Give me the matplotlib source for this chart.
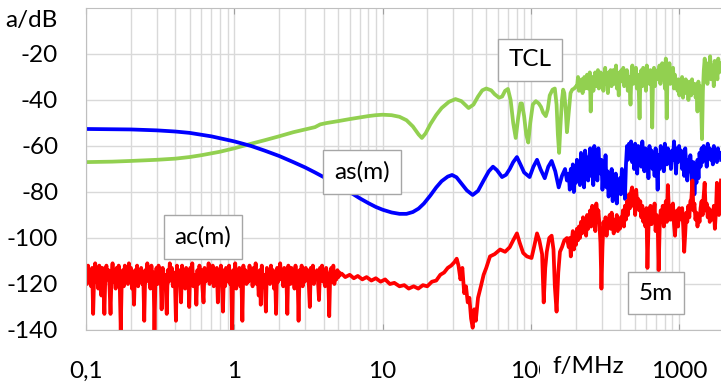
import matplotlib.pyplot as plt
import numpy as np

plt.rcParams['font.family'] = ['Lato', 'DejaVu Sans']
plt.rcParams['axes.unicode_minus'] = False

# ---- TCL (green) ----
tcl_f = [0.1, 0.15, 0.2, 0.3, 0.4, 0.5, 0.6, 0.8, 1.0, 1.3, 1.6, 2.0, 2.5, 3.0, 3.5, 3.8, 4.2,
         5.0, 6.0, 7.0, 8.0, 9.0, 10, 11.5, 13, 14.5, 16, 17.5, 18.4, 19.5, 21, 23, 25, 28, 31,
         34, 38, 41, 44, 47, 50, 54, 57, 61, 64, 67, 70, 73, 76, 79, 82, 85, 87, 90, 93, 96, 99,
         103, 108, 113, 117, 121, 126, 130, 134, 140, 145, 149, 152, 155, 158, 162, 165, 168,
         172, 175, 179, 185, 190, 196, 202]
tcl_db = [-67.0, -66.8, -66.5, -66.0, -65.5, -64.8, -64.0, -62.5, -61.0, -59.0, -57.5, -55.8,
          -54.0, -52.8, -51.8, -50.6, -50.0, -49.2, -48.3, -47.6, -47.0, -46.6, -46.4, -46.6,
          -47.3, -48.8, -51.5, -55.0, -56.5, -54.5, -50.5, -46.5, -43.5, -40.8, -39.6, -40.5,
          -43.5, -42.0, -38.5, -35.8, -35.0, -35.8, -37.5, -39.0, -38.5, -36.0, -35.2, -40.0,
          -50.0, -56.5, -48.0, -41.5, -41.5, -47.0, -55.0, -58.5, -50.0, -42.0, -40.5, -41.5,
          -43.0, -45.5, -47.0, -44.0, -38.0, -35.5, -35.0, -42.0, -55.0, -63.0, -52.0, -40.0,
          -35.5, -37.0, -45.0, -54.0, -47.0, -37.0, -35.5, -35.0, -34.0]
# noisy part, 205 .. 1914 MHz
tcl_noise_db = [-34, -30, -36, -32, -35, -31, -37, -33, -30, -35,
                -32, -29, -35, -31, -28, -45, -33, -30, -36, -31,
                -28, -34, -30, -27, -35, -31, -28, -33, -29, -36,
                -30, -26, -33, -29, -37, -28, -32, -27, -34, -30,
                -27, -33, -29, -25, -35, -30, -38, -28, -32, -27,
                -31, -26, -34, -29, -32, -27, -36, -30, -33, -42,
                -29, -25, -33, -28, -31, -26, -35, -29, -34, -48,
                -30, -27, -34, -26, -31, -28, -36, -25, -32, -29,
                -33, -27, -30, -52, -29, -26, -34, -28, -31, -27,
                -30, -25, -33, -28, -24, -31, -27, -35, -22, -48,
                -27, -31, -24, -33, -28, -30, -26, -35, -29, -32,
                -32, -36, -31, -38, -33, -35, -30, -39, -34, -37,
                -31, -36, -33, -40, -32, -35, -38, -31, -37, -34,
                -33, -39, -35, -45, -32, -37, -34, -41, -57, -36,
                -27, -22, -30, -25, -33, -24, -29, -21, -31, -27,
                -25, -34, -23, -29, -26, -31, -22, -28, -24, -27]

# ---- as(m) (blue) ----
as_f = [0.1, 0.15, 0.2, 0.3, 0.4, 0.5, 0.7, 1.0, 1.3, 1.6, 2.0, 2.5, 3.0, 3.5, 4.0, 5.0, 6.0,
        7.0, 8.0, 9.0, 10, 11.5, 13, 14.5, 16, 17.5, 19, 21, 23, 25, 27.5, 29.4, 31.5, 34, 37,
        40.5, 44, 48, 52, 55.5, 59, 63.9, 68, 72, 76, 80.5, 85, 90, 98, 104, 110, 116, 124, 131,
        138, 146, 154, 162, 170, 175]
as_db = [-52.6, -52.7, -52.8, -53.2, -53.7, -54.3, -55.8, -58.0, -60.0, -62.0, -64.3, -67.0,
         -69.3, -71.5, -73.5, -77.0, -80.0, -82.7, -84.8, -86.5, -87.7, -88.9, -89.5, -89.5,
         -88.7, -87.2, -85.0, -81.5, -78.0, -75.3, -73.3, -72.6, -73.6, -76.3, -79.3, -81.3,
         -79.5, -75.0, -71.0, -69.0, -70.5, -73.5, -72.5, -70.0, -67.0, -64.8, -68.0, -71.5,
         -73.5, -69.0, -66.0, -70.0, -74.0, -69.0, -66.5, -71.0, -78.0, -73.0, -70.0, -75.0]
# noisy part, 180 .. 1914 MHz
as_noise_db = [-72, -79, -70, -75, -68, -80, -71, -76, -66, -73,
               -69, -77, -63, -72, -67, -78, -62, -70, -65, -75,
               -66, -61, -73, -64, -77, -60, -70, -63, -75, -61,
               -68, -72, -66, -79, -70, -75, -64, -78, -71, -82,
               -73, -77, -70, -84, -74, -79, -72, -85, -76, -80,
               -74, -81, -70, -78, -72, -83, -68, -60, -66, -59,
               -64, -58, -67, -61, -70, -59, -65, -72, -60, -66,
               -62, -69, -58, -65, -71, -61, -67, -63, -74, -60,
               -68, -62, -70, -65, -73, -61, -67, -79, -64, -70,
               -60, -66, -62, -71, -59, -64, -68, -61, -67, -63,
               -70, -62, -66, -58, -64, -72, -61, -67, -60, -65,
               -62, -70, -64, -73, -61, -68, -75, -66, -71, -64,
               -70, -79, -67, -81, -72, -76, -66, -74, -63, -69,
               -61, -67, -60, -65, -62, -69, -59, -64, -61, -66,
               -63, -68, -60, -65, -62, -67, -61, -64, -63, -66]

# ---- ac(m) (red) ----
# noisy part, 0.1 .. 5.2 MHz
ac_low_db = [-113, -120, -112, -118, -115, -121, -113, -133, -116, -111,
             -119, -114, -122, -112, -117, -125, -113, -120, -133, -115,
             -112, -118, -114, -121, -133, -116, -111, -119, -115, -122,
             -113, -117, -112, -120, -140, -118, -114, -121, -112, -117,
             -115, -120, -111, -118, -113, -122, -116, -129, -114, -119,
             -112, -121, -115, -118, -113, -120, -116, -136, -114, -119,
             -111, -118, -114, -122, -112, -119, -115, -140, -117, -113,
             -120, -112, -118, -115, -131, -113, -119, -116, -121, -133,
             -114, -119, -111, -117, -113, -121, -115, -118, -136, -112,
             -120, -114, -118, -128, -112, -119, -116, -122, -113, -117,
             -115, -130, -113, -119, -111, -121, -116, -118, -129, -114,
             -120, -112, -117, -114, -122, -128, -113, -119, -115, -118,
             -111, -120, -114, -117, -112, -121, -116, -119, -113, -128,
             -115, -120, -112, -118, -132, -114, -121, -113, -117, -119,
             -112, -120, -116, -140, -114, -119, -111, -122, -115, -118,
             -113, -121, -117, -136, -112, -118, -114, -120, -116, -119,
             -112, -118, -115, -121, -113, -117, -111, -120, -116, -125,
             -114, -129, -112, -119, -116, -121, -132, -113, -118, -115,
             -120, -112, -117, -114, -122, -116, -133, -113, -119, -115,
             -111, -118, -114, -121, -113, -119, -116, -133, -112, -117,
             -120, -113, -118, -115, -122, -112, -119, -116, -136, -114,
             -118, -112, -121, -115, -119, -113, -117, -114, -120, -130,
             -113, -118, -112, -120, -115, -117, -114, -119, -127, -113,
             -117, -112, -119, -114, -121, -113, -118, -116, -134, -115,
             -113, -119, -112, -120, -116, -118, -114, -117, -115, -116]
ac_f = [5.3, 5.6, 6.0, 6.4, 6.8, 7.3, 7.8, 8.4, 9.0, 9.7, 10.4, 11.2, 12.0, 13.0, 14.0, 15.0,
        16.2, 17.4, 18.7, 20.0, 21.5, 23.0, 24.5, 26.0, 27.5, 29.0, 30.5, 31.6, 32.5, 33.5,
        34.5, 35.5, 36.5, 37.5, 38.5, 39.5, 40.5, 41.5, 42.5, 44, 46, 48, 50, 53, 57, 62, 67,
        72, 76, 80.5, 84, 88.7, 94, 101, 105, 110, 114, 119, 122, 125, 128, 133, 138, 142,
        145, 149, 153, 157, 162, 168, 175]
ac_db = [-115.5, -117, -116, -117.5, -116.5, -118, -117, -118.5, -117.5, -119, -118, -120,
         -119.5, -121, -120.5, -122, -121, -122, -120.5, -121, -119, -118.5, -116, -115, -113,
         -112, -110.5, -109, -112, -118, -113, -124, -121, -128, -126, -135, -139, -131, -136,
         -126, -121, -116, -113, -108, -107, -105, -106, -104, -101, -98, -102, -106.5, -108,
         -108.7, -104, -98, -101, -107, -128, -113, -106, -100, -99, -105, -121, -132, -115,
         -106, -104, -101, -100]
# noisy part, 180 .. 1914 MHz
ac_high_db = [-104, -100, -108, -101, -97, -105, -99, -103, -96, -101,
              -95, -100, -93, -98, -91, -97, -94, -99, -90, -96,
              -92, -88, -95, -86, -93, -90, -97, -85, -91, -88,
              -94, -102, -122, -104, -93, -97, -91, -99, -93, -95,
              -90, -96, -89, -94, -98, -92, -95, -90, -97, -93,
              -96, -91, -94, -88, -95, -86, -92, -84, -90, -81,
              -87, -80, -78, -86, -82, -90, -79, -85, -83, -88,
              -84, -91, -86, -93, -88, -95, -87, -113, -96, -89,
              -86, -94, -88, -91, -85, -97, -90, -93, -114, -95,
              -88, -92, -86, -95, -89, -84, -93, -77, -88, -92,
              -92, -86, -85, -94, -99, -91, -88, -95, -87, -90,
              -92, -87, -95, -106, -98, -89, -93, -86, -91, -84,
              -83, -75, -88, -85, -92, -89, -95, -90, -93, -87,
              -84, -90, -82, -76, -88, -85, -91, -87, -93, -89,
              -88, -92, -86, -96, -89, -76, -84, -90, -82, -75]

tcl_x = np.concatenate([tcl_f, np.geomspace(205, 1914, len(tcl_noise_db))])
tcl_y = np.concatenate([tcl_db, tcl_noise_db])
as_x = np.concatenate([as_f, np.geomspace(180, 1914, len(as_noise_db))])
as_y = np.concatenate([as_db, as_noise_db])
ac_x = np.concatenate([np.geomspace(0.1, 5.2, len(ac_low_db)), ac_f,
                       np.geomspace(180, 1914, len(ac_high_db))])
ac_y = np.concatenate([ac_low_db, ac_db, ac_high_db])

W, H = 721, 383
fig = plt.figure(figsize=(W / 100, H / 100), dpi=100)
ax = fig.add_axes([86 / W, 53 / H, 635 / W, 322 / H])

ax.plot(tcl_x, tcl_y, color='#92d050', lw=2.7)
ax.plot(as_x, as_y, color='#0000ff', lw=2.7)
ax.plot(ac_x, ac_y, color='#ff0000', lw=2.7)

ax.set_xscale('log')
ax.set_xlim(0.1, 1914)
ax.set_ylim(-140, 0)
ax.set_yticks(range(-140, 0, 20))
ax.set_xticks([0.1, 1, 10, 100, 1000])
ax.set_xticklabels(['0,1', '1', '10', '100', '1000'])
ax.grid(True, which='both', color='#d9d9d9', lw=1)
ax.set_axisbelow(True)
ax.tick_params(axis='both', which='both', length=0, labelsize=17.5)
ax.tick_params(axis='x', pad=22)
ax.tick_params(axis='y', pad=20)
ax.tick_params(axis='x', which='major', top=True, direction='in', length=4, color='#a0a0a0')
for s in ['left', 'bottom', 'top']:
    ax.spines[s].set_color('#bfbfbf')
ax.spines['right'].set_visible(False)

fig.text(58 / W, 1 - 20 / H, 'a/dB', fontsize=17.5, ha='right', va='center')
fig.text(588 / W, 1 - 367 / H, 'f/MHz', fontsize=17.5, ha='center', va='center',
         bbox=dict(boxstyle='square,pad=0.5', fc='white', ec='none'))

box = dict(boxstyle='square,pad=0.45', fc='white', ec='#a6a6a6', lw=1)
fig.text(530 / W, 1 - 60 / H, 'TCL', fontsize=17.5, ha='center', va='center', bbox=box)
fig.text(362 / W, 1 - 172 / H, 'as(m)', fontsize=17.5, ha='center', va='center', bbox=box)
fig.text(203 / W, 1 - 237 / H, 'ac(m)', fontsize=17.5, ha='center', va='center', bbox=box)
fig.text(656 / W, 1 - 293 / H, '5m', fontsize=17.5, ha='center', va='center', bbox=box)

fig.savefig('out.png', dpi=100)
